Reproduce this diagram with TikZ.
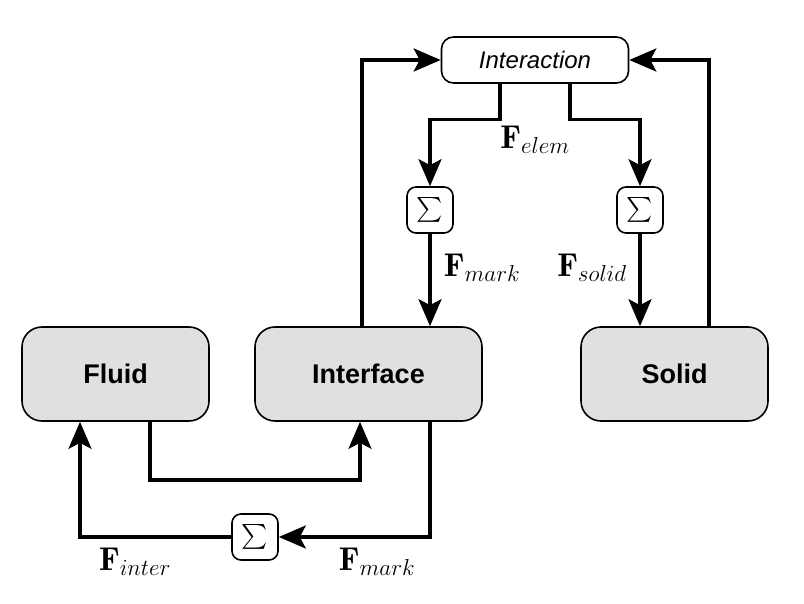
\RequirePackage{fix-cm}
\documentclass[tikz,border=0pt]{standalone}
\usepackage{amsmath}
\usepackage{fontspec}
\setsansfont{Liberation Sans}
\usetikzlibrary{arrows.meta}

\begin{document}
\begin{tikzpicture}[x=1pt, y=-1pt,
	block/.style={draw, line width=1.6pt, rounded corners=20pt, fill=black!12,
		minimum width=187pt, minimum height=94pt, font=\fontsize{27}{30}\selectfont\sffamily\bfseries},
	hub/.style={draw, line width=1.6pt, rounded corners=12pt, fill=white,
		minimum width=187pt, minimum height=46pt, font=\fontsize{24}{28}\selectfont\sffamily\itshape},
	summer/.style={draw, line width=1.6pt, rounded corners=9pt, fill=white,
		minimum size=46pt, inner sep=0pt, font=\fontsize{34}{38}\selectfont},
	force/.style={font=\fontsize{33}{38}\selectfont},
	flow/.style={line width=3.4pt, -{Stealth[length=27pt, width=23pt, inset=6pt]}},]

\useasboundingbox (0,0) rectangle (804,604);

\node [block] (fluid) at (115.5,374) {Fluid};
\node [block, minimum width=227pt] (inter) at (368.5,374) {Interface};
\node [block] (solid) at (674.5,374) {Solid};
\node [hub] (act) at (535,60) {Interaction};

\node [summer] (s1) at (430,210) {$\sum$};
\node [summer] (s2) at (640,210) {$\sum$};
\node [summer] (s3) at (255,537) {$\sum$};

\node [force] (felem) at (535,140) {$\mathbf{F}_{elem}$};
\node [force] (fmark) at (482,268) {$\mathbf{F}_{mark}$};
\node [force] (fsolid) at (592,268) {$\mathbf{F}_{solid}$};
\node [force] (finter) at (135,562) {$\mathbf{F}_{inter}$};
\node [force] (fmarkb) at (377,562) {$\mathbf{F}_{mark}$};

% up to the interaction
\draw [flow] ([xshift=-6.5pt]inter.north) |- (act.west);
\draw [flow] ([xshift=34.5pt]solid.north) |- (act.east);

% interaction down to the sums
\draw [flow] ([xshift=-35pt]act.south) -- ++(0,36) -| (s1.north);
\draw [flow] ([xshift=35pt]act.south) -- ++(0,36) -| (s2.north);
\draw [flow] (s1.south) -- (s1.south |- inter.north);
\draw [flow] (s2.south) -- (s2.south |- solid.north);

% fluid and interface loop
\draw [flow] ([xshift=34.5pt]fluid.south) -- ++(0,58) -| ([xshift=-8.5pt]inter.south);
\draw [flow] ([xshift=61.5pt]inter.south) |- (s3.east);
\draw [flow] (s3.west) -| ([xshift=-35.5pt]fluid.south);

\end{tikzpicture}
\end{document}
